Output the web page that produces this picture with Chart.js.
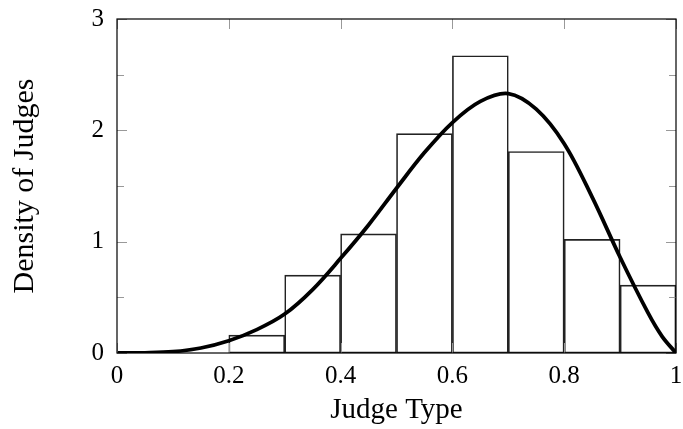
<!DOCTYPE html>
<html>
<head>
<meta charset="utf-8">
<script src="https://cdn.jsdelivr.net/npm/chart.js@4.4.1/dist/chart.umd.min.js"></script>
<style>
  html, body { margin: 0; padding: 0; background: #fff; }
  #wrap { width: 683px; height: 429px; }
</style>
</head>
<body>
<div id="wrap"><canvas id="grafico"></canvas></div>
<script>
// Histograma: centro de cada classe e densidade
const binCenters = [0.25, 0.35, 0.45, 0.55, 0.65, 0.75, 0.85, 0.95];
const binHeights = [0.16, 0.70, 1.07, 1.97, 2.67, 1.81, 1.02, 0.61];

// Curva de densidade
const curveX = [0, 0.05, 0.1, 0.15, 0.2, 0.25, 0.3, 0.35, 0.4, 0.45, 0.5, 0.55, 0.6, 0.65, 0.7, 0.75, 0.8, 0.85, 0.9, 0.95, 0.975, 1.0];
const curveY = [0, 0.002, 0.012, 0.045, 0.11, 0.21, 0.35, 0.57, 0.85, 1.15, 1.48, 1.80, 2.07, 2.26, 2.33, 2.19, 1.88, 1.40, 0.86, 0.36, 0.15, 0];

// Marcas dos eixos
const xTicks = [0, 0.2, 0.4, 0.6, 0.8, 1];
const yTicks = [0, 1, 2, 3];
const yMinorTicks = [0.5, 1.5, 2.5];

const fonteSerif = "'Liberation Serif', 'DejaVu Serif', serif";

// Plugin para desenhar as marcas para dentro e a moldura
const moldura = {
  id: 'moldura',
  afterDraw(chart) {
    const { ctx, chartArea: a, scales } = chart;
    ctx.save();
    ctx.strokeStyle = '#999';
    ctx.lineWidth = 1;
    ctx.beginPath();
    xTicks.forEach(v => {
      const px = Math.round(scales.x.getPixelForValue(v)) + 0.5;
      ctx.moveTo(px, a.bottom); ctx.lineTo(px, a.bottom - 10);
      ctx.moveTo(px, a.top); ctx.lineTo(px, a.top + 10);
    });
    yTicks.forEach(v => {
      const py = Math.round(scales.y.getPixelForValue(v)) + 0.5;
      ctx.moveTo(a.left, py); ctx.lineTo(a.left + 10, py);
      ctx.moveTo(a.right, py); ctx.lineTo(a.right - 10, py);
    });
    yMinorTicks.forEach(v => {
      const py = Math.round(scales.y.getPixelForValue(v)) + 0.5;
      ctx.moveTo(a.left, py); ctx.lineTo(a.left + 7, py);
      ctx.moveTo(a.right, py); ctx.lineTo(a.right - 7, py);
    });
    ctx.stroke();
    ctx.strokeStyle = '#000';
    ctx.lineWidth = 1.2;
    ctx.strokeRect(a.left, a.top, a.right - a.left, a.bottom - a.top);
    ctx.restore();
  }
};

const ctx = document.getElementById('grafico').getContext('2d');
const grafico = new Chart(ctx, {
  type: 'bar',
  data: {
    datasets: [
      {
        type: 'line',
        label: 'Densidade',
        data: curveX.map((x, i) => ({ x: x, y: curveY[i] })),
        borderColor: '#000',
        borderWidth: 3.8,
        pointRadius: 0,
        tension: 0.35,
        fill: false,
        order: 0
      },
      {
        type: 'bar',
        label: 'Histograma',
        data: binCenters.map((x, i) => ({ x: x, y: binHeights[i] })),
        backgroundColor: 'rgba(0,0,0,0)',
        borderColor: '#222',
        borderWidth: 1,
        borderSkipped: false,
        barPercentage: 1,
        categoryPercentage: 1,
        order: 1
      }
    ]
  },
  options: {
    responsive: true,
    maintainAspectRatio: false,
    animation: false,
    layout: { padding: { top: 19, right: 7, left: 0, bottom: 0 } },
    plugins: { legend: { display: false }, tooltip: { enabled: false } },
    scales: {
      x: {
        type: 'linear',
        min: 0, max: 1,
        offset: false,
        grid: { display: false, drawTicks: false },
        border: { display: false },
        ticks: {
          stepSize: 0.2,
          padding: 8,
          color: '#000',
          font: { family: fonteSerif, size: 25 },
          callback: v => String(Math.round(v * 10) / 10)
        },
        title: {
          display: true, text: 'Judge Type', color: '#000',
          font: { family: fonteSerif, size: 29 },
          padding: { top: 0, bottom: 1 }
        },
        afterFit(scale) {
          scale.height = 76;
          scale.paddingLeft = 0; scale.paddingRight = 0;
        }
      },
      y: {
        min: 0, max: 3,
        grid: { display: false, drawTicks: false },
        border: { display: false },
        ticks: {
          stepSize: 1,
          padding: 13,
          color: '#000',
          font: { family: fonteSerif, size: 25 }
        },
        title: {
          display: true, text: 'Density of Judges', color: '#000',
          font: { family: fonteSerif, size: 30 },
          padding: { top: 7, bottom: 0 }
        },
        afterFit(scale) {
          scale.width = 117;
          scale.paddingTop = 0; scale.paddingBottom = 0;
        }
      }
    }
  },
  plugins: [moldura]
});
</script>
</body>
</html>
